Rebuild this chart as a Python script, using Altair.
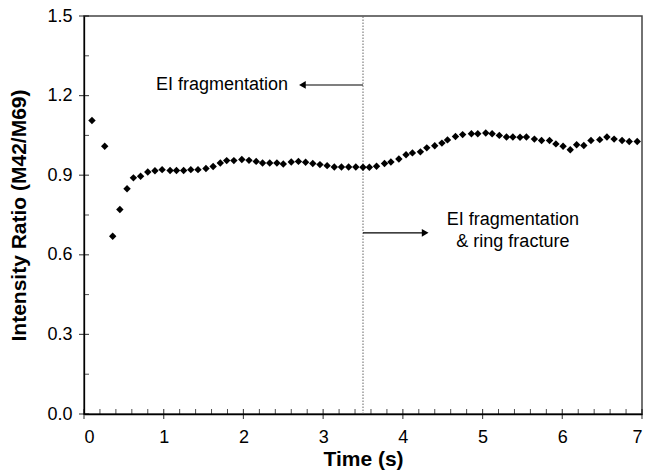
import altair as alt
import pandas as pd

time_s = [0.10, 0.26, 0.36, 0.45, 0.54, 0.62, 0.71, 0.80, 0.89, 0.98,
          1.08, 1.16, 1.25, 1.34, 1.43, 1.53, 1.62, 1.71, 1.79, 1.88,
          1.98, 2.07, 2.16, 2.24, 2.33, 2.42, 2.50, 2.60, 2.69, 2.78,
          2.87, 2.96, 3.05, 3.14, 3.23, 3.32, 3.41, 3.50, 3.58, 3.67,
          3.77, 3.85, 3.95, 4.04, 4.12, 4.22, 4.30, 4.40, 4.49, 4.56,
          4.66, 4.75, 4.86, 4.94, 5.04, 5.12, 5.21, 5.30, 5.38, 5.47,
          5.55, 5.65, 5.74, 5.84, 5.92, 6.01, 6.10, 6.18, 6.27, 6.36,
          6.47, 6.56, 6.65, 6.75, 6.84, 6.94]
ratio = [1.106, 1.009, 0.670, 0.771, 0.849, 0.890, 0.896, 0.912, 0.917, 0.921,
         0.918, 0.918, 0.918, 0.921, 0.921, 0.925, 0.933, 0.946, 0.955, 0.955,
         0.959, 0.956, 0.952, 0.946, 0.946, 0.946, 0.942, 0.950, 0.952, 0.949,
         0.944, 0.940, 0.936, 0.931, 0.931, 0.931, 0.931, 0.930, 0.930, 0.934,
         0.944, 0.950, 0.961, 0.977, 0.984, 0.988, 1.003, 1.011, 1.021, 1.033,
         1.046, 1.053, 1.056, 1.056, 1.059, 1.056, 1.050, 1.044, 1.044, 1.043,
         1.044, 1.036, 1.031, 1.031, 1.018, 1.009, 0.996, 1.015, 1.012, 1.031,
         1.034, 1.044, 1.036, 1.031, 1.027, 1.027]

x_major = [0, 1, 2, 3, 4, 5, 6, 7]
x_minor = [v / 5 for v in range(0, 36) if v % 5 != 0]
y_major = [0.0, 0.3, 0.6, 0.9, 1.2, 1.5]
y_minor = [0.15, 0.45, 0.75, 1.05, 1.35]

divider_t = 3.5
arrow_left = {"x": 3.5, "x2": 2.74, "y": 1.24}
arrow_right = {"x": 3.5, "x2": 4.28, "y": 0.683}
label_left = ["EI fragmentation"]
label_right = ["EI fragmentation", "& ring fracture"]

FONT = "Liberation Sans"
df = pd.DataFrame({"t": time_s, "r": ratio})

xs = alt.Scale(domain=[0, 7], nice=False)
ys = alt.Scale(domain=[0, 1.5], nice=False)

base_x = alt.X("t:Q", scale=xs, title="Time (s)",
               axis=alt.Axis(values=x_major, format="d", ticks=False, labelPadding=14,
                             titlePadding=2))
base_y = alt.Y("r:Q", scale=ys, title="Intensity Ratio (M42/M69)",
               axis=alt.Axis(values=y_major, format=".1f", ticks=False, labelPadding=12,
                             titlePadding=17))

points = alt.Chart(df).mark_point(shape="diamond", filled=True, color="black",
                                  size=55, opacity=1).encode(x=base_x, y=base_y)

vline = alt.Chart(pd.DataFrame({"t": [divider_t]})).mark_rule(
    color="#666", strokeDash=[1.5, 1.5], strokeWidth=1).encode(
    x=alt.X("t:Q", scale=xs), y=alt.datum(0), y2=alt.datum(1.5))

arrows_df = pd.DataFrame([arrow_left, arrow_right])
arrow_lines = alt.Chart(arrows_df).mark_rule(color="black", strokeWidth=1.2).encode(
    x=alt.X("x:Q", scale=xs), x2="x2:Q", y=alt.Y("y:Q", scale=ys))
head_l = alt.Chart(pd.DataFrame([arrow_left])).mark_point(
    shape="triangle-left", filled=True, color="black", size=60, opacity=1).encode(
    x=alt.X("x2:Q", scale=xs), y=alt.Y("y:Q", scale=ys))
head_r = alt.Chart(pd.DataFrame([arrow_right])).mark_point(
    shape="triangle-right", filled=True, color="black", size=60, opacity=1).encode(
    x=alt.X("x2:Q", scale=xs), y=alt.Y("y:Q", scale=ys))

text_l = alt.Chart(pd.DataFrame({"x": [2.56], "y": [1.24], "s": label_left})).mark_text(
    align="right", baseline="middle", font=FONT, fontSize=18, color="black").encode(
    x=alt.X("x:Q", scale=xs), y=alt.Y("y:Q", scale=ys), text="s:N")
text_r = alt.Chart(pd.DataFrame({"x": [5.38, 5.38], "y": [0.733, 0.648],
                                 "s": label_right})).mark_text(
    align="center", baseline="middle", font=FONT, fontSize=18, color="black").encode(
    x=alt.X("x:Q", scale=xs), y=alt.Y("y:Q", scale=ys), text="s:N")

xmaj = alt.Chart(pd.DataFrame({"v": x_major})).mark_tick(
    orient="vertical", size=10, thickness=1.2, color="black").encode(
    x=alt.X("v:Q", scale=xs), y=alt.datum(0, scale=ys))
xmin = alt.Chart(pd.DataFrame({"v": x_minor})).mark_tick(
    orient="vertical", size=5, thickness=1, color="black", yOffset=-2.5).encode(
    x=alt.X("v:Q", scale=xs), y=alt.datum(0, scale=ys))
ymaj = alt.Chart(pd.DataFrame({"v": y_major})).mark_tick(
    orient="horizontal", size=10, thickness=1.2, color="black").encode(
    y=alt.Y("v:Q", scale=ys), x=alt.datum(0, scale=xs))
ymin = alt.Chart(pd.DataFrame({"v": y_minor})).mark_tick(
    orient="horizontal", size=5, thickness=1, color="black", xOffset=2.5).encode(
    y=alt.Y("v:Q", scale=ys), x=alt.datum(0, scale=xs))

chart = alt.layer(vline, arrow_lines, head_l, head_r, text_l, text_r,
                  xmaj, xmin, ymaj, ymin, points).properties(
    width=558, height=398,
    autosize=alt.AutoSizeParams(type="none"),
    padding={"left": 84, "top": 16, "right": 4, "bottom": 58},
).configure_view(stroke="#444", strokeWidth=1.5).configure_axis(
    labelFont=FONT, titleFont=FONT, labelFontSize=18, titleFontSize=21,
    titleFontWeight="bold", labelColor="black", titleColor="black",
    domainColor="black", domainWidth=1.3, grid=False
)

chart.save("out.html", embed_options={"renderer": "svg", "actions": False})
